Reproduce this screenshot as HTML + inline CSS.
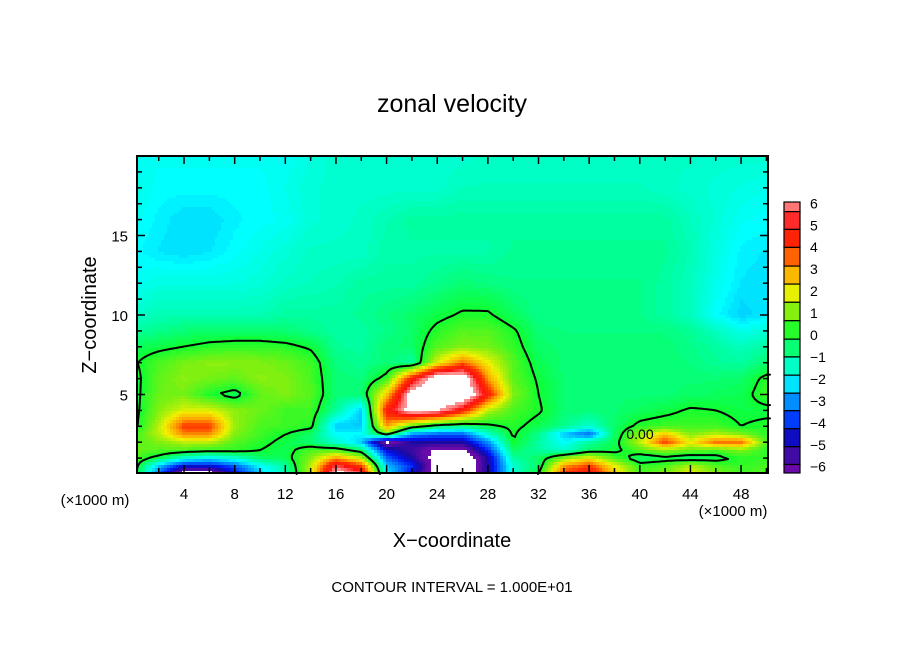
<!DOCTYPE html>
<html><head><meta charset="utf-8"><style>
html,body{margin:0;padding:0;background:#fff;}
svg{display:block;font-family:"Liberation Sans",sans-serif;}
</style></head><body>
<svg id="chart" width="904" height="654" viewBox="0 0 904 654">
<rect width="904" height="654" fill="#fff"/>
<text x="452" y="112" font-size="25" text-anchor="middle">zonal velocity</text>
<g id="field"></g>
<g id="contour"></g>
<rect x="137" y="156" width="631" height="317" fill="none" stroke="#000" stroke-width="2"/>
<g id="axes"></g>
<text x="96" y="315" font-size="20" text-anchor="middle" transform="rotate(-90 96 315)">Z−coordinate</text>
<text x="452" y="547" font-size="20" text-anchor="middle">X−coordinate</text>
<text x="95" y="505" font-size="15" text-anchor="middle">(×1000 m)</text>
<text x="733" y="516" font-size="15" text-anchor="middle">(×1000 m)</text>
<text x="452" y="592" font-size="15" text-anchor="middle">CONTOUR INTERVAL = 1.000E+01</text>
<text x="640" y="439" font-size="14" text-anchor="middle">0.00</text>
<g id="cbar"></g>
</svg>
<script>
// grid x positions (×1000 m)
const xs = [0,2,4,6,8,10,12,14,16,18,20,22,24,26,28,30,32,34,36,38,40,42,44,46,48,50];
// grid z positions (×1000 m), top to bottom
const zs = [20,18,16,14,12,10,9,8,7,6,5,4,3,2.5,2,1.5,1,0.5,0];
// zonal velocity values, rows match zs
const u20=[-1.9,-1.9,-1.9,-1.9,-1.9,-1.9,-1.9,-1.7,-1.5,-1.5,-1.5,-1.5,-1.5,-1.5,-1.4,-1.4,-1.4,-1.4,-1.4,-1.4,-1.4,-1.4,-1.4,-1.5,-1.5,-1.5];
const u18=[-1.7,-2.0,-2.0,-2.0,-2.0,-2.0,-1.8,-1.6,-1.5,-1.5,-1.5,-1.5,-1.5,-1.3,-1.3,-1.3,-1.3,-1.3,-1.3,-1.3,-1.3,-1.4,-1.5,-1.6,-1.7,-1.8];
const u16=[-1.9,-2.1,-2.3,-2.3,-2.1,-2.0,-1.9,-1.6,-1.5,-1.4,-1.2,-1.0,-1.0,-1.0,-1.0,-1.0,-1.0,-1.0,-1.0,-1.0,-1.0,-1.0,-1.3,-1.6,-1.9,-2.0];
const u14=[-2.0,-2.2,-2.3,-2.2,-2.0,-1.8,-1.6,-1.4,-1.4,-1.4,-1.1,-1.1,-1.1,-1.1,-1.1,-0.9,-0.9,-0.9,-0.9,-0.9,-0.9,-0.9,-1.2,-1.7,-2.1,-2.2];
const u12=[-1.9,-1.7,-1.7,-1.7,-1.7,-1.6,-1.4,-1.3,-1.2,-1.0,-1.0,-1.0,-0.8,-0.6,-0.7,-0.8,-0.8,-0.8,-0.8,-0.8,-0.8,-1.0,-1.3,-1.8,-2.2,-2.3];
const u10=[-1.5,-1.2,-1.2,-1.2,-1.2,-1.2,-1.0,-1.0,-1.0,-0.9,-0.7,-0.5,-0.2,0.1,0.1,-0.4,-0.8,-0.8,-0.8,-0.8,-0.8,-1.0,-1.3,-2.0,-2.4,-2.2];
const u9=[-1.0,-0.8,-0.6,-0.5,-0.5,-0.5,-0.6,-0.8,-1.0,-1.0,-0.8,-0.5,0.2,0.6,0.6,0.1,-0.6,-0.7,-0.7,-0.7,-0.7,-0.7,-0.9,-1.3,-1.8,-1.6];
const u8=[-0.4,-0.2,0.0,0.2,0.3,0.3,0.2,-0.1,-0.9,-1.0,-0.6,-0.5,0.6,1.0,0.9,0.3,-0.5,-0.6,-0.6,-0.6,-0.6,-0.6,-0.8,-1.0,-1.3,-1.0];
const u7=[-0.1,0.5,0.9,1.1,1.1,1.0,0.8,0.4,-0.7,-0.9,-0.6,-1.0,1.8,3.5,2.0,0.6,-0.3,-0.6,-0.6,-0.6,-0.6,-0.6,-0.7,-0.9,-1.0,-0.6];
const u6=[-0.3,0.7,1.1,0.9,0.7,1.1,1.0,0.5,-0.6,-0.7,0.3,4.5,7.5,7.5,3.0,0.7,-0.1,-0.6,-0.6,-0.6,-0.6,-0.6,-0.6,-0.6,-0.5,0.2];
const u5=[-0.3,0.8,0.9,0.1,-0.3,0.7,1.0,0.6,-0.6,-0.6,2.5,7.0,8.0,8.0,4.5,1.0,0.0,-0.6,-0.6,-0.6,-0.6,-0.6,-0.5,-0.4,-0.3,0.4];
const u4=[-0.3,1.0,1.8,1.8,1.1,0.8,0.4,0.4,-1.0,-2.5,4.5,7.0,6.5,4.5,1.5,0.5,0.1,-0.6,-0.6,-0.6,-0.4,-0.2,0.1,0.0,-0.2,-0.2];
const u3=[-0.3,1.5,4.0,4.0,1.2,0.5,0.4,0.2,-2.5,-2.5,3.0,0.5,-0.5,-0.8,-0.2,0.2,-0.3,-0.8,-1.5,-0.5,0.2,0.4,0.4,0.4,0.0,0.2];
const u25=[0.3,1.5,3.2,3.2,1.0,0.4,0.0,-0.5,-2.0,-2.0,0.5,-3.0,-3.5,-3.5,-1.5,0.1,-0.8,-2.5,-3.5,-0.5,1.2,2.5,1.0,1.5,1.0,0.2];
const u2=[0.5,1.0,1.5,1.5,0.6,0.2,-0.2,-0.6,-1.5,-2.5,-6.5,-5.0,-5.0,-5.0,-3.0,0.0,-1.0,-2.0,-1.0,-0.3,1.5,4.0,2.0,3.5,3.5,0.5];
const u15=[0.8,0.6,0.5,0.3,0.3,0.0,-0.3,0.5,0.5,-0.5,-4.5,-5.5,-6.5,-6.5,-4.0,-0.5,-1.0,-1.5,-0.5,-0.2,0.5,1.2,0.8,0.5,1.0,0.2];
const u1=[0.6,-0.3,-1.5,-2.0,-1.5,-0.5,-0.3,1.0,3.0,1.5,-3.5,-5.0,-7.0,-7.5,-5.0,-1.0,-0.5,1.0,2.0,0.5,-0.5,-0.3,-0.5,-0.3,0.2,0.3];
const u05=[0.5,-2.5,-4.5,-4.5,-3.5,-2.0,-1.0,1.5,5.5,4.0,-2.5,-4.0,-7.0,-7.5,-5.0,-1.5,-0.5,3.0,4.0,2.0,0.3,0.5,1.5,0.6,0.3,0.5];
const u0=[0.5,-3.5,-7.0,-7.0,-4.5,-2.5,-1.2,1.5,7.0,5.5,-2.0,-4.5,-7.0,-7.5,-5.0,-1.5,0.0,4.0,5.0,2.5,0.5,1.0,2.0,1.0,0.5,0.5];
const rows=[u20,u18,u16,u14,u12,u10,u9,u8,u7,u6,u5,u4,u3,u25,u2,u15,u1,u05,u0];
// axis tick labels
const xTicks=[4,8,12,16,20,24,28,32,36,40,44,48];
const zTicks=[5,10,15];
const cbarLabels=[6,5,4,3,2,1,0,-1,-2,-3,-4,-5,-6];

const NS='http://www.w3.org/2000/svg';
const X0=137,X1=768,Y0=156,Y1=473;
function xScale(x){return 133.4+x*12.66;}
function zScale(z){return 474-z*15.9;}
function xInv(px){return (px-133.4)/12.66;}
function zInv(py){return (474-py)/15.9;}

// continuous colour ramp (style, not data)
const rampV=[-6,-5,-4.3,-3.5,-2.7,-2,-1,0,1,2,3,4,5,5.5,6];
const rampC=[[106,10,168],[26,10,160],[0,16,240],[0,96,255],[0,176,255],[0,255,255],[0,255,160],[16,255,48],[128,240,16],[240,240,0],[255,160,0],[255,48,0],[255,16,16],[255,80,80],[255,144,144]];
function colorOf(v){
  if(v>6.3||v<-6.3) return '#ffffff';
  v=Math.max(-6,Math.min(6,v));
  let i=0; while(i<rampV.length-2 && v>rampV[i+1]) i++;
  const f=(v-rampV[i])/(rampV[i+1]-rampV[i]);
  const a=rampC[i],b=rampC[i+1];
  const c=a.map((k,j)=>Math.round(k+(b[j]-k)*f));
  return 'rgb('+c.join(',')+')';
}
// colorbar box colours
const boxVals=[5.8,5.2,4.4,3.55,2.7,1.9,1.05,0.2,-0.6,-1.4,-2.25,-3.05,-3.85,-4.7,-5.5,-6.1];
const boxBounds=[5.62,4.81,3.99,3.14,2.32,1.49,0.65,-0.19,-1.0,-1.83,-2.65,-3.45,-4.27,-5.09,-5.9];

function sample(x,z){
  x=Math.max(0,Math.min(50,x)); z=Math.max(0,Math.min(20,z));
  let i=Math.min(xs.length-2,Math.floor(x/2)); let fx=(x-xs[i])/(xs[i+1]-xs[i]);
  let j=0; while(j<zs.length-2 && z<zs[j+1]) j++;
  let fz=(zs[j]-z)/(zs[j]-zs[j+1]);
  const a=rows[j][i],b=rows[j][i+1],c=rows[j+1][i],d=rows[j+1][i+1];
  return (a*(1-fx)+b*fx)*(1-fz)+(c*(1-fx)+d*fx)*fz;
}
const field=document.getElementById('field');
const S=3;
const nx=Math.ceil((X1-X0)/S), nz=Math.ceil((Y1-Y0)/S);
for(let r=0;r<nz;r++){
  const py=Y0+r*S, z=zInv(py+S/2);
  let runStart=0, runCol=null;
  for(let c=0;c<=nx;c++){
    let col=null;
    if(c<nx){ const v=sample(xInv(X0+c*S+S/2),z); col=colorOf(Math.round(v*8)/8); }
    if(col!==runCol){
      if(runCol!==null){
        const rc=document.createElementNS(NS,'rect');
        const x=X0+runStart*S, w=Math.min(X1,X0+c*S)-x;
        rc.setAttribute('x',x);rc.setAttribute('y',py);rc.setAttribute('width',w+0.5);rc.setAttribute('height',Math.min(S,Y1-py)+0.5);
        rc.setAttribute('fill',runCol);
        
        
        field.appendChild(rc);
      }
      runCol=col; runStart=c;
    }
  }
}
// zero contour via marching squares
const cont=document.getElementById('contour');
const C=3; let d='';
const cx=Math.ceil((X1-X0)/C), cz=Math.ceil((Y1-Y0)/C);
const V=[];
for(let r=0;r<=cz;r++){V[r]=[];for(let c=0;c<=cx;c++){V[r][c]=sample(xInv(X0+c*C),zInv(Y0+r*C));}}
function lerp(a,b){return a/(a-b);}
for(let r=0;r<cz;r++)for(let c=0;c<cx;c++){
  const a=V[r][c],b=V[r][c+1],e=V[r+1][c+1],f=V[r+1][c];
  const pts=[];
  const x=X0+c*C,y=Y0+r*C;
  if((a>0)!==(b>0)) pts.push([x+C*lerp(a,b),y]);
  if((b>0)!==(e>0)) pts.push([x+C,y+C*lerp(b,e)]);
  if((f>0)!==(e>0)) pts.push([x+C*lerp(f,e),y+C]);
  if((a>0)!==(f>0)) pts.push([x,y+C*lerp(a,f)]);
  for(let k=0;k+1<pts.length;k+=2) d+=`M${pts[k][0].toFixed(1)} ${pts[k][1].toFixed(1)}L${pts[k+1][0].toFixed(1)} ${pts[k+1][1].toFixed(1)}`;
}
const cp=document.createElementNS(NS,'path');
cp.setAttribute('d',d);cp.setAttribute('stroke','#000');cp.setAttribute('stroke-width','2');cp.setAttribute('fill','none');cp.setAttribute('stroke-linecap','round');


cont.appendChild(cp);

// axes ticks & labels
const axes=document.getElementById('axes');
function line(x1,y1,x2,y2,name){const l=document.createElementNS(NS,'line');l.setAttribute('x1',x1);l.setAttribute('y1',y1);l.setAttribute('x2',x2);l.setAttribute('y2',y2);l.setAttribute('stroke','#000');l.setAttribute('stroke-width','1.5');
  
  
  axes.appendChild(l);}
function text(x,y,s,anchor,size,name,parent){const t=document.createElementNS(NS,'text');t.setAttribute('x',x);t.setAttribute('y',y);t.setAttribute('text-anchor',anchor);t.setAttribute('font-size',size);t.textContent=s;
  
  
  (parent||axes).appendChild(t);}
for(let x=2;x<=50;x+=2){const px=xScale(x);if(px>X1)continue;const L=(x%4===0)?8:5;line(px,Y1,px,Y1-L,'x-tick');line(px,Y0,px,Y0+L,'x-tick-top');}
for(let z=1;z<20;z++){const py=zScale(z);const L=(z%5===0)?8:5;line(X0,py,X0+L,py,'z-tick');line(X1,py,X1-L,py,'z-tick-right');}
xTicks.forEach(v=>text(xScale(v),499,String(v),'middle',15,'x-tick-label'));
zTicks.forEach(v=>text(128,zScale(v)+6,String(v),'end',15,'z-tick-label'));

// colorbar
const cb=document.getElementById('cbar');
const cbTop=202,cbBot=473,cbX=784,cbW=16;
const lab6=203.3, labM6=466.7, per=(labM6-lab6)/12;
function vToY(v){return lab6+(6-v)*per;}
let prev=cbTop;
for(let i=0;i<boxVals.length;i++){
  const yb = i<boxBounds.length ? vToY(boxBounds[i]) : cbBot;
  const r=document.createElementNS(NS,'rect');
  r.setAttribute('x',cbX);r.setAttribute('y',prev);r.setAttribute('width',cbW);r.setAttribute('height',yb-prev);
  r.setAttribute('fill',colorOf(boxVals[i]));r.setAttribute('stroke','#000');r.setAttribute('stroke-width','1.2');
  
  
  cb.appendChild(r); prev=yb;
}
cbarLabels.forEach(v=>text(810,vToY(v)+5,v<0?'−'+Math.abs(v):String(v),'start',14,'colorbar-label',cb));
</script>
</body></html>
